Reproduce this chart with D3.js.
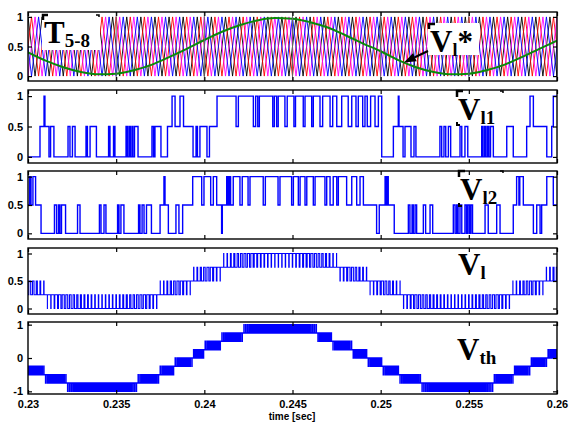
<!DOCTYPE html>
<html>
<head>
<meta charset="utf-8">
<script src="https://cdn.jsdelivr.net/npm/d3@7"></script>
<style>
  html, body { margin: 0; padding: 0; background: #fff; }
  svg { display: block; }
</style>
</head>
<body>
<svg id="chart" width="570" height="423"></svg>
<script>
// ---- time axis -------------------------------------------------------------
const timeTicks = [0.23, 0.235, 0.24, 0.245, 0.25, 0.255, 0.26];
const timeTickLabels = ["0.23", "0.235", "0.24", "0.245", "0.25", "0.255", "0.26"];
const levelTicks = [0, 0.5, 1];
const levelTickLabels = ["0", "0.5", "1"];
const vthTicks = [-1, 0, 1];
const vthTickLabels = ["-1", "0", "1"];

// ---- modulation reference V_l* (time in ms, per-unit level) ------------------
const refTimesMs = [230, 231, 232, 233, 234, 235, 236, 237, 238, 239, 240,
                    241, 242, 243, 244, 245, 246, 247, 248, 249, 250,
                    251, 252, 253, 254, 255, 256, 257, 258, 259, 260];
const refLevels = [0.40, 0.26, 0.15, 0.07, 0.03, 0.04, 0.10, 0.19, 0.32, 0.46, 0.61,
                   0.75, 0.86, 0.94, 0.98, 0.97, 0.91, 0.82, 0.69, 0.55, 0.42,
                   0.27, 0.15, 0.07, 0.03, 0.04, 0.10, 0.19, 0.32, 0.46, 0.60];

// ---- terminal-voltage reference (ms, per-unit) --------------------------------
const vthTimesMs = [230.0, 230.96, 232.21, 234.2, 236.24, 237.49, 238.34, 239.3, 240.04,
                    241.0, 242.19, 244.29, 246.39, 247.3, 248.37, 249.28, 250.13, 251.1,
                    252.34, 254.33, 256.37, 257.5, 258.47, 259.43, 260.0];
const vthLevels = [-0.27, -0.5, -0.75, -0.93, -0.75, -0.5, -0.25, 0.0, 0.25,
                   0.5, 0.75, 0.93, 0.75, 0.5, 0.25, 0.0, -0.25, -0.5,
                   -0.75, -0.93, -0.75, -0.5, -0.25, 0.0, 0.15];

// ---- triangular carriers ------------------------------------------------------
const carrierPeriod = 0.0008;                       // s
const carrierNames = ["T5", "T6", "T7", "T8"];
const carrierPhases = [0, 0.25, 0.5, 0.75];         // fraction of a period
const carrierColors = ["#000000", "#ff0000", "#ff00ff", "#0000ff"];
const auxCarrierPhases = [0.125, 0.375, 0.625, 0.875]; // T1-T4

// ---- cell outputs V_l1, V_l2 (ms, level) --------------------------------------
const vl1Steps = [
  [230.00, 0], [230.68, 0.5], [230.91, 1], [230.96, 0.5], [231.19, 0], [231.28, 0.5],
  [231.47, 0], [232.27, 0.5], [232.38, 0], [232.52, 0.5], [232.67, 0], [233.29, 0.5],
  [233.37, 0], [233.52, 0.5], [233.88, 0], [234.57, 0.5], [234.65, 0], [234.85, 0.5],
  [234.93, 0], [235.56, 0.5], [235.64, 0], [235.73, 0.5], [235.81, 0], [235.90, 0.5],
  [235.95, 0], [236.04, 0.5], [236.24, 0], [237.03, 0.5], [237.12, 0], [237.20, 0.5],
  [237.54, 0], [237.91, 0.5], [238.17, 1], [238.34, 0.5], [238.62, 1], [238.82, 0.5],
  [239.36, 0], [239.53, 0.5], [239.61, 0], [239.75, 0.5], [240.15, 0], [240.29, 0.5],
  [240.72, 1], [241.80, 0.5], [241.93, 1], [242.78, 0.5], [242.91, 1], [243.03, 0.5],
  [243.12, 1], [243.88, 0.5], [243.97, 1], [244.10, 0.5], [244.19, 1], [244.57, 0.5],
  [244.70, 1], [245.08, 0.5], [245.17, 1], [245.61, 0.5], [245.71, 1], [246.09, 0.5],
  [246.18, 1], [246.56, 0.5], [246.71, 1], [247.13, 0.5], [247.28, 1], [247.51, 0.5],
  [247.79, 1], [248.16, 0.5], [248.36, 1], [248.60, 0.5], [248.73, 1], [248.98, 0.5],
  [249.11, 1], [249.24, 0.5], [249.43, 1], [249.68, 0.5], [249.87, 1], [250.06, 0],
  [250.72, 0.5], [251.00, 1], [251.04, 0.5], [251.27, 0], [251.38, 0.5], [251.72, 0],
  [251.89, 0.5], [252.00, 0], [253.36, 0.5], [253.46, 0], [253.59, 0.5], [253.69, 0],
  [253.84, 0.5], [253.97, 0], [254.50, 0.5], [254.60, 0], [254.78, 0.5], [254.94, 0],
  [255.73, 0.5], [255.80, 0], [255.89, 0.5], [255.97, 0], [256.06, 0.5], [256.14, 0],
  [256.23, 0.5], [256.39, 0], [257.15, 0.5], [257.52, 0], [258.28, 0.5], [258.47, 1],
  [258.66, 0.5], [259.42, 0], [259.70, 0.5], [259.79, 1], [260.00, 1]
];
const vl2Steps = [
  [230.00, 0.5], [230.09, 1], [230.17, 0.5], [230.28, 1], [230.43, 0.5], [230.74, 0],
  [231.50, 0.5], [231.62, 0], [231.73, 0.5], [231.81, 0], [231.90, 0.5], [232.13, 0],
  [232.81, 0.5], [232.95, 0], [234.05, 0.5], [234.14, 0], [234.31, 0.5], [234.42, 0],
  [235.08, 0.5], [235.16, 0], [235.27, 0.5], [235.44, 0], [236.27, 0.5], [236.35, 0],
  [236.47, 0.5], [236.58, 0], [236.72, 0.5], [237.00, 0], [237.49, 0.5], [237.71, 1],
  [237.77, 0.5], [237.96, 0], [238.39, 0.5], [238.56, 0], [238.77, 0.5], [239.34, 1],
  [239.85, 0.5], [239.98, 1], [240.36, 0.5], [240.51, 1], [240.70, 0.5], [240.98, 0],
  [241.02, 0.5], [241.27, 1], [241.34, 0.5], [241.42, 1], [241.49, 0.5], [241.64, 1],
  [242.02, 0.5], [242.15, 1], [242.48, 0.5], [242.59, 1], [243.34, 0.5], [243.46, 1],
  [244.18, 0.5], [244.29, 1], [244.95, 0.5], [245.05, 1], [245.33, 0.5], [245.43, 1],
  [245.71, 0.5], [245.81, 1], [246.18, 0.5], [246.28, 1], [246.84, 0.5], [246.94, 1],
  [247.13, 0.5], [247.31, 1], [247.51, 0.5], [247.60, 1], [248.07, 0.5], [248.36, 1],
  [248.64, 0.5], [248.83, 1], [249.02, 0.5], [249.77, 0], [249.92, 0.5], [250.25, 1],
  [250.30, 0.5], [250.38, 1], [250.43, 0.5], [250.77, 0], [251.57, 0.5], [251.66, 0],
  [251.78, 0.5], [251.85, 0], [251.95, 0.5], [252.04, 0], [252.42, 0.5], [252.55, 0],
  [252.80, 0.5], [252.95, 0], [254.12, 0.5], [254.22, 0], [254.31, 0.5], [254.39, 0],
  [254.50, 0.5], [254.60, 0], [254.78, 0.5], [254.87, 0], [254.95, 0.5], [255.04, 0],
  [255.12, 0.5], [255.21, 0], [255.92, 0.5], [256.10, 0], [256.58, 0.5], [256.77, 0],
  [257.52, 0.5], [257.71, 1], [257.84, 0.5], [257.89, 1], [258.09, 0.5], [258.66, 0],
  [258.85, 0.5], [259.04, 0], [259.13, 0.5], [259.42, 1], [259.79, 0.5], [260.00, 0.5]
];

// ---- layout -------------------------------------------------------------------
const t0 = 0.23, t1 = 0.26;
const svg = d3.select("#chart");
const x = d3.scaleLinear().domain([t0, t1]).range([28, 557]);

const panels = [
  { id: "p1", top: 12,  bottom: 81,  domain: [-0.083, 1.083], ticks: levelTicks, labels: levelTickLabels },
  { id: "p2", top: 90,  bottom: 163, domain: [-0.1, 1.1],     ticks: levelTicks, labels: levelTickLabels },
  { id: "p3", top: 171, bottom: 239, domain: [-0.1, 1.1],     ticks: levelTicks, labels: levelTickLabels },
  { id: "p4", top: 248, bottom: 314, domain: [-0.1, 1.1],     ticks: levelTicks, labels: levelTickLabels },
  { id: "p5", top: 322, bottom: 394, domain: [-1.08, 1.08],   ticks: vthTicks,   labels: vthTickLabels }
];
panels.forEach(p => { p.y = d3.scaleLinear().domain(p.domain).range([p.bottom, p.top]); });

const defs = svg.append("defs");
panels.forEach(p => {
  defs.append("clipPath").attr("id", "clip-" + p.id)
    .append("rect").attr("x", x(t0)).attr("y", p.top)
    .attr("width", x(t1) - x(t0)).attr("height", p.bottom - p.top);
});

// ---- signal helpers -----------------------------------------------------------
const refScale = d3.scaleLinear().domain(refTimesMs.map(d => d / 1000)).range(refLevels).clamp(true);
const vthScale = d3.scaleLinear().domain(vthTimesMs.map(d => d / 1000)).range(vthLevels).clamp(true);

function carrierValue(t, phase) {
  const s = ((t / carrierPeriod - phase) % 1 + 1) % 1;
  return s < 0.5 ? 2 * s : 2 - 2 * s;
}
function carrierVertices(phase) {
  const k0 = Math.floor((t0 / carrierPeriod - phase) * 2) - 1;
  const k1 = Math.ceil((t1 / carrierPeriod - phase) * 2) + 1;
  return d3.range(k0, k1 + 1).map(k => [(phase + k / 2) * carrierPeriod, k % 2 === 0 ? 0 : 1]);
}
// Level-shifted count of carriers lying below the modulating signal
function pwmSteps(modFn, phases, toLevel) {
  const dt = 2.5e-7, n = Math.round((t1 - t0) / dt);
  const out = [];
  let prev = null;
  for (let i = 0; i <= n; i++) {
    const t = t0 + i * dt;
    const u = modFn(t);
    let c = 0;
    for (const ph of phases) if (carrierValue(t, ph) < u) c++;
    const v = toLevel(c);
    if (v !== prev) { out.push([t, v]); prev = v; }
  }
  out.push([t1, prev]);
  return out;
}

const vlSteps = pwmSteps(t => refScale(t), carrierPhases, c => c / 4);
const allPhases = carrierPhases.concat(auxCarrierPhases);
const vthSteps = pwmSteps(t => (vthScale(t) + 1) / 2, allPhases, c => c / 4 - 1);

// ---- panels ---------------------------------------------------------------------
panels.forEach(p => { p.g = svg.append("g"); });

function styleAxis(sel) {
  sel.select(".domain").remove();
  sel.selectAll(".tick line").attr("stroke", "#000").attr("stroke-width", 1.2);
  sel.selectAll("text").attr("font-family", "'Liberation Sans', Arial, sans-serif")
    .attr("font-weight", "bold").attr("font-size", 11).attr("fill", "#000");
}

const lineBlue = "#0000ff";
const lineGen = (p) => d3.line().x(d => x(d[0])).y(d => p.y(d[1])).curve(d3.curveStepAfter);

// Panel 1: carriers T5-8 and reference
{
  const p = panels[0];
  const plot = p.g.append("g").attr("clip-path", "url(#clip-p1)");
  const cl = d3.line().x(d => x(d[0])).y(d => p.y(d[1]));
  carrierPhases.forEach((ph, i) => {
    plot.append("path").datum(carrierVertices(ph))
      .attr("d", cl).attr("fill", "none")
      .attr("stroke", carrierColors[i]).attr("stroke-width", 0.9)
      .attr("data-name", carrierNames[i]);
  });
  plot.append("path")
    .datum(refTimesMs.map((ms, i) => [ms / 1000, refLevels[i]]))
    .attr("d", d3.line().x(d => x(d[0])).y(d => p.y(d[1])).curve(d3.curveMonotoneX))
    .attr("fill", "none").attr("stroke", "#0a8a0a").attr("stroke-width", 2);
  p.g.selectAll("line.grid").data(timeTicks.slice(1, -1)).join("line")
    .attr("class", "grid")
    .attr("x1", d => x(d)).attr("x2", d => x(d))
    .attr("y1", p.top).attr("y2", p.bottom)
    .attr("stroke", "#666").attr("stroke-width", 1);
}

// Panels 2-3: cell outputs
[[panels[1], vl1Steps], [panels[2], vl2Steps]].forEach(([p, data]) => {
  p.g.append("g").attr("clip-path", `url(#clip-${p.id})`)
    .append("path").datum(data.map(d => [d[0] / 1000, d[1]]))
    .attr("d", lineGen(p)).attr("fill", "none")
    .attr("stroke", lineBlue).attr("stroke-width", 1.4);
});

// Panels 4-5: multilevel phase and terminal voltages
[[panels[3], vlSteps, 1.1], [panels[4], vthSteps, 1.5]].forEach(([p, data, w]) => {
  p.g.append("g").attr("clip-path", `url(#clip-${p.id})`)
    .append("path").datum(data)
    .attr("d", lineGen(p)).attr("fill", "none")
    .attr("stroke", lineBlue).attr("stroke-width", w);
});

// Axes on top of the traces
panels.forEach((p, idx) => {
  const g = p.g;
  g.append("g").attr("transform", `translate(${x(t0)},0)`)
    .call(d3.axisLeft(p.y).tickValues(p.ticks).tickFormat((d, i) => p.labels[i])
      .tickSizeInner(-4).tickSizeOuter(0).tickPadding(5)).call(styleAxis);
  g.append("g").attr("transform", `translate(${x(t1)},0)`)
    .call(d3.axisRight(p.y).tickValues(p.ticks).tickFormat("")
      .tickSizeInner(-4).tickSizeOuter(0)).call(styleAxis);
  g.append("g").attr("transform", `translate(0,${p.top})`)
    .call(d3.axisTop(x).tickValues(timeTicks).tickFormat("")
      .tickSizeInner(-4).tickSizeOuter(0)).call(styleAxis);
  g.append("g").attr("transform", `translate(0,${p.bottom})`)
    .call(d3.axisBottom(x).tickValues(timeTicks)
      .tickFormat((d, i) => idx === panels.length - 1 ? timeTickLabels[i] : "")
      .tickSizeInner(-4).tickSizeOuter(0).tickPadding(6)).call(styleAxis);
  g.append("rect").attr("x", x(t0)).attr("y", p.top)
    .attr("width", x(t1) - x(t0)).attr("height", p.bottom - p.top)
    .attr("fill", "none").attr("stroke", "#000").attr("stroke-width", 1.4);
});

svg.append("text").attr("x", 292).attr("y", 420).attr("text-anchor", "middle")
  .attr("font-family", "'Liberation Sans', Arial, sans-serif").attr("font-weight", "bold")
  .attr("font-size", 10).text("time [sec]");

// ---- trace labels --------------------------------------------------------------
const serif = "'Liberation Serif', 'Times New Roman', serif";
function cornerMarks(g, x0, y0, x1, y1) {
  g.append("path").attr("d", `M${x0},${y0 + 6}V${y0}H${x0 + 6}`)
    .attr("fill", "none").attr("stroke", "#000").attr("stroke-width", 2.5);
  g.append("path").attr("d", `M${x1 - 3},${y0}H${x1}V${y0 + 2}`)
    .attr("fill", "none").attr("stroke", "#000").attr("stroke-width", 1.5);
  g.append("path").attr("d", `M${x0},${y1 - 3}V${y1}H${x0 + 3}`)
    .attr("fill", "none").attr("stroke", "#000").attr("stroke-width", 2);
}
function label(g, xPos, yPos, main, sub, sup, bigSize, subSize) {
  const t = g.append("text").attr("x", xPos).attr("y", yPos)
    .attr("font-family", serif).attr("font-weight", "bold").attr("fill", "#000");
  t.append("tspan").attr("font-size", bigSize).text(main);
  t.append("tspan").attr("font-size", subSize).attr("dy", 4).text(sub);
  if (sup) t.append("tspan").attr("font-size", bigSize).attr("dy", -4).text(sup);
  return t;
}
const lab = svg.append("g");

// T5-8 box
lab.append("rect").attr("x", 42).attr("y", 14).attr("width", 58).attr("height", 36).attr("fill", "#fff");
lab.append("path").attr("d", "M43,20V15H48").attr("fill", "none").attr("stroke", "#000").attr("stroke-width", 2.5);
lab.append("path").attr("d", "M96,15H99V17").attr("fill", "none").attr("stroke", "#000").attr("stroke-width", 1.5);
label(lab, 44, 43, "T", "5-8", null, 31, 19);

// V_l* box and arrow onto the reference
lab.append("rect").attr("x", 428).attr("y", 23).attr("width", 51).attr("height", 32).attr("fill", "#fff");
lab.append("path").attr("d", "M429,29V24H435").attr("fill", "none").attr("stroke", "#000").attr("stroke-width", 2.5);
label(lab, 430, 52, "V", "l", "*", 31, 18);
{
  const p = panels[0];
  const tt = 0.25132;
  const tip = [x(tt), p.y(refScale(tt))];
  const tail = [428, 51];
  const dx = tip[0] - tail[0], dy = tip[1] - tail[1], L = Math.hypot(dx, dy);
  const ux = dx / L, uy = dy / L, hl = 12, hw = 4.5;
  const bx = tip[0] - ux * hl, by = tip[1] - uy * hl;
  lab.append("line").attr("x1", tail[0]).attr("y1", tail[1]).attr("x2", bx).attr("y2", by)
    .attr("stroke", "#000").attr("stroke-width", 2);
  lab.append("path")
    .attr("d", `M${tip[0]},${tip[1]}L${bx - uy * hw},${by + ux * hw}L${bx + uy * hw},${by - ux * hw}Z`)
    .attr("fill", "#000");
}

cornerMarks(lab, 457, 91, 503, 125);
label(lab, 458, 120, "V", "l1", null, 31, 19);
cornerMarks(lab, 459, 171, 503, 206);
label(lab, 460, 200, "V", "l2", null, 31, 19);
label(lab, 458, 275, "V", "l", null, 31, 19);
label(lab, 457, 360, "V", "th", null, 31, 19);
</script>
</body>
</html>
